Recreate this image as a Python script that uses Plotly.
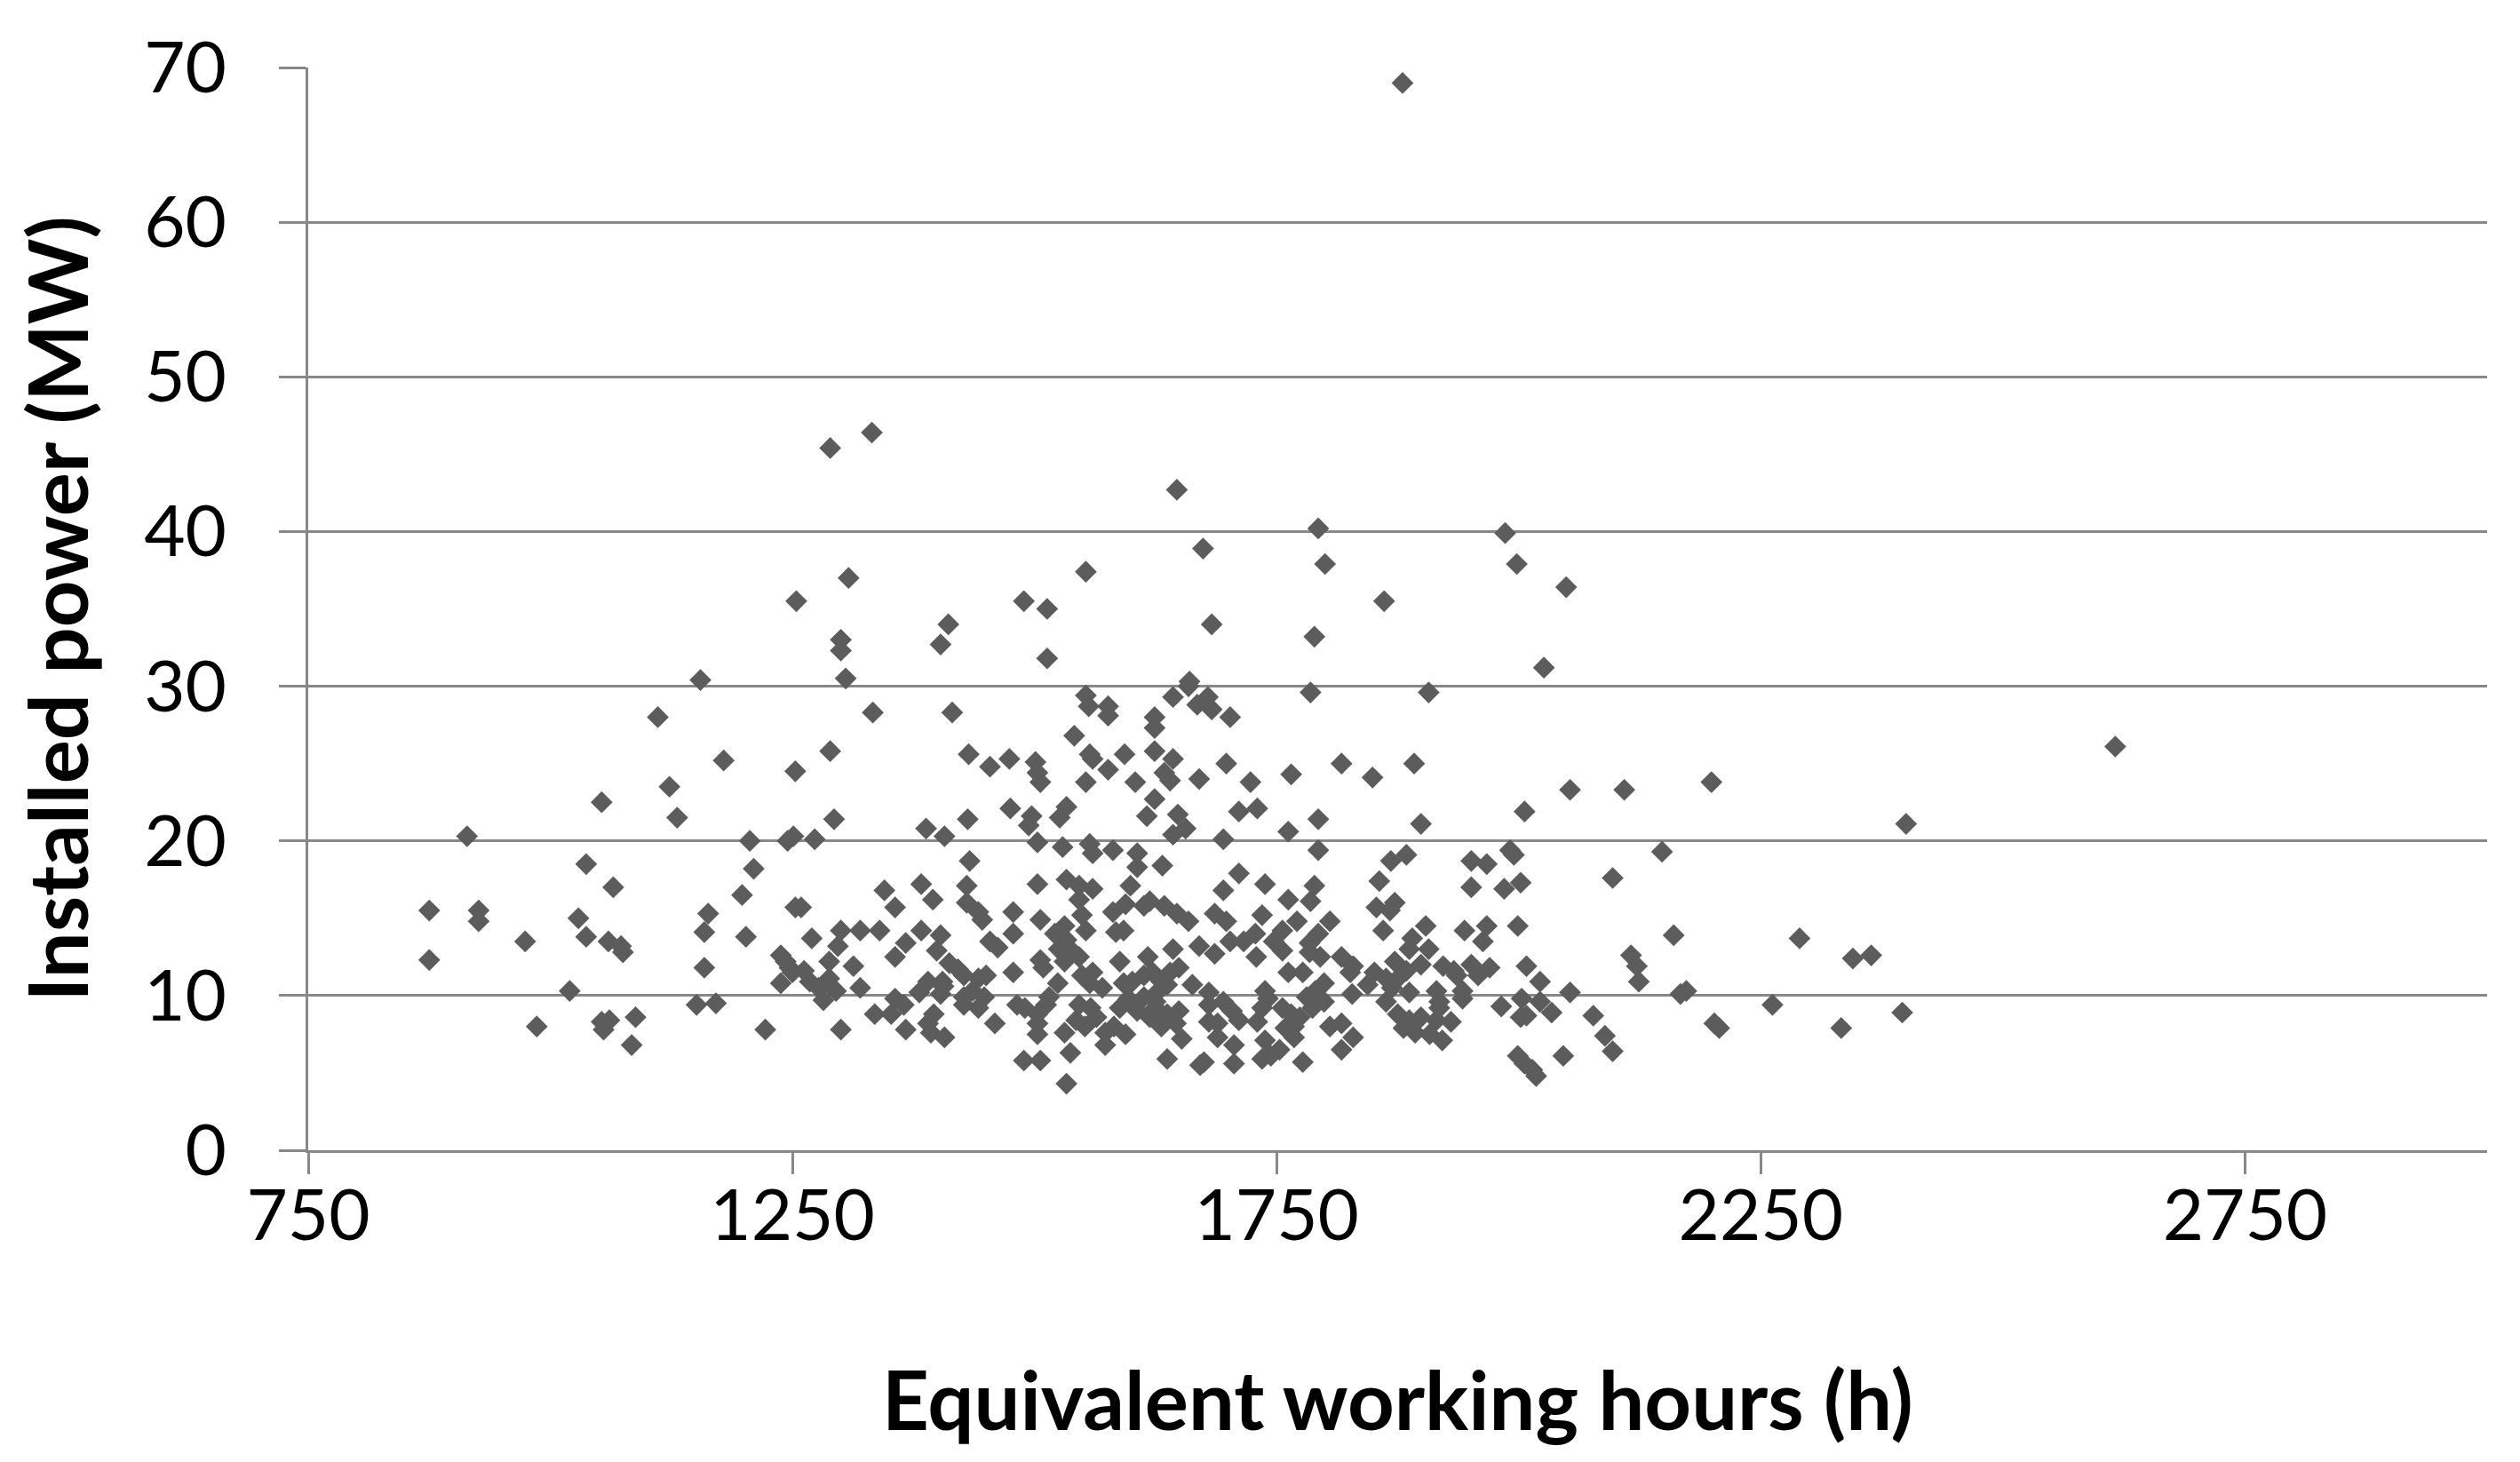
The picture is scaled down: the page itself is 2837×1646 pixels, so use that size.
import plotly.graph_objects as go

# Equivalent working hours (h) and installed power (MW)
hours = [
    875, 875, 914, 926, 926, 974, 986, 1020, 1029, 1037, 1037, 1053, 1053, 1055, 1061, 1060, 1065, 1073, 1075, 1084,
    1088, 1111, 1123, 1131, 1151, 1155, 1159, 1159, 1163, 1171, 1179, 1198, 1202, 1206, 1210, 1222, 1238, 1243, 1247, 1250,
    1238, 1245, 1251, 1253, 1254,
    1289, 1332, 1647, 1793, 1986, 1998, 1674, 1800, 1308, 1553, 1489, 1513, 1861, 1411, 1403, 1300, 1300, 1513, 1683, 1789,
    1305, 1660,
    1333, 1415, 1289, 1432, 1293, 1273, 1388, 1407, 1431, 1433, 1383, 1345, 1430,
    1553, 1556, 1576, 1576, 1624, 1624, 1541, 1454, 1474, 1501, 1503, 1506, 1557, 1560, 1576, 1593, 1553, 1604, 1624, 1624,
    1616, 1475, 1497, 1494, 1533, 1526, 1503, 1529, 1557, 1560, 1581, 1606, 1606, 1503, 1533, 1546, 1560, 1599,
    1659, 1643, 1668, 1679, 1683, 1702, 1785, 1643, 1634, 1640, 1670, 1698, 1723, 1765, 1817, 1648, 1656, 1643, 1711, 1730,
    1695, 1762, 1793, 1793, 1632, 1711, 1738, 1695, 1789,
    1907, 1849, 1892, 1899, 2006, 1884, 1868, 1856, 1951, 1967, 1991, 1995, 1951, 1985, 2002,
    1253, 1259, 1356, 1395, 1430, 1270, 1300, 1320, 1340, 1297, 1288, 1313, 1262, 1268, 1277, 1282, 1288, 1295, 1320, 1367,
    1356, 1383, 1403, 1399, 1412, 1421, 1390, 1381, 1405, 1403, 1406, 1427, 1427, 1427, 1356, 1365, 1352, 1335, 1396, 1390,
    1393, 1407, 1300, 1367,
    1546, 1594, 1613, 1619, 1442, 1446, 1478, 1506, 1549, 1553, 1581, 1478, 1454, 1462, 1584, 1592, 1531, 1521, 1533, 1525,
    1540, 1531, 1546, 1506, 1509, 1588, 1617, 1478, 1442, 1450, 1436, 1448, 1442, 1549, 1560, 1557, 1570, 1524, 1515, 1512,
    1482, 1490, 1503, 1503, 1503, 1459, 1546, 1558, 1564, 1543, 1552, 1531, 1573, 1582, 1594, 1573, 1592, 1601, 1613, 1622,
    1597, 1613, 1625, 1588, 1606, 1619, 1537, 1489, 1506, 1533,
    1762, 1785, 1634, 1647, 1659, 1686, 1698, 1735, 1756, 1771, 1805, 1793, 1784, 1643, 1670, 1686, 1702, 1716, 1728, 1729,
    1747, 1756, 1784, 1795, 1817, 1762, 1777, 1631, 1640, 1649, 1628, 1637, 1663, 1625, 1637, 1649, 1631, 1646, 1652, 1637,
    1680, 1680, 1695, 1704, 1711, 1680, 1689, 1689, 1675, 1671, 1706, 1706, 1738, 1741, 1735, 1730, 1738, 1735, 1744, 1753,
    1756, 1765, 1759, 1768, 1774, 1768, 1781, 1790, 1799, 1787, 1799, 1777, 1805, 1817,
    1853, 1867, 1872, 1860, 1904, 1890, 1887, 1907, 1944, 1967, 1963, 1999, 1829, 1826, 1851, 1872, 1884, 1899, 1863, 1875,
    1844, 1869, 1922, 1936, 1933, 1951, 1970, 1958, 2008, 1828, 1887, 1915, 1918, 1918, 1942, 1942, 1863, 1875, 1887, 1899,
    1915, 1930, 1881, 1893, 1908, 1921, 1982, 2003, 2002, 1817, 1829, 1999, 2006,
    2049, 2026, 2616, 2053, 2109, 2199, 2400, 2148, 2097, 2160, 2290, 2345, 2364, 2116, 2122, 2124, 2022, 2053, 2167, 2173,
    2022, 2008, 2034, 2077, 2262, 2396, 2202, 2207, 2333, 2089, 2097, 2046, 2014, 2018,
    1880,
]

power_mw = [
    15.5, 12.3, 20.3, 15.5, 14.8, 13.5, 8.0, 10.3, 15.0, 18.5, 13.8, 22.5, 8.3, 7.8, 8.4, 13.5, 17.0, 13.2, 12.8, 6.8,
    8.6, 28.0, 23.5, 21.5, 9.4, 30.4, 14.1, 11.8, 15.3, 9.5, 25.2, 16.5, 13.8, 20.0, 18.2, 7.8, 12.6, 12.2, 11.8, 11.5,
    10.8, 20.0, 20.3, 24.5, 35.5,
    45.4, 46.4, 42.7, 40.2, 39.9, 37.9, 38.9, 37.9, 37.0, 37.4, 35.5, 35.0, 35.5, 34.0, 32.7, 33.0, 32.3, 31.8, 34.0, 33.2,
    30.5, 30.3,
    28.3, 28.3, 25.8, 25.6, 21.4, 20.1, 20.8, 20.3, 21.4, 18.7, 17.2, 16.8, 17.1,
    29.4, 28.7, 28.7, 28.1, 28.0, 27.3, 26.8, 24.8, 25.3, 25.1, 24.4, 23.8, 25.6, 25.3, 24.6, 25.6, 23.8, 23.8, 25.8, 22.7,
    21.6, 22.1, 21.6, 21.0, 22.2, 21.5, 19.9, 19.6, 19.8, 19.2, 19.4, 19.2, 18.3, 17.2, 17.5, 17.1, 16.9, 17.1,
    30.0, 29.3, 28.8, 29.3, 28.5, 28.0, 29.6, 25.3, 24.4, 23.9, 24.0, 25.0, 23.8, 24.3, 25.0, 21.7, 20.8, 20.4, 21.9, 22.1,
    20.1, 20.6, 21.4, 19.4, 18.4, 17.9, 17.2, 16.8, 17.1,
    29.6, 24.1, 25.0, 21.1, 21.9, 19.1, 18.7, 17.4, 18.7, 18.5, 19.4, 19.1, 17.0, 16.9, 17.3,
    15.7, 15.7, 15.7, 16.2, 16.0, 13.7, 14.2, 14.2, 14.2, 13.2, 12.2, 11.9, 11.6, 10.9, 10.5, 9.7, 11.1, 10.3, 10.5, 13.4,
    12.5, 14.2, 13.9, 12.9, 12.1, 11.7, 10.9, 10.2, 10.9, 10.1, 10.6, 11.3, 9.9, 9.4, 9.8, 9.4, 8.8, 8.8, 8.8, 8.2,
    7.6, 7.3, 7.8, 7.8,
    16.2, 15.9, 15.8, 16.1, 15.4, 14.9, 15.4, 14.9, 15.2, 14.2, 15.4, 14.0, 13.5, 13.1, 14.1, 14.2, 14.5, 14.0, 13.6, 13.0,
    12.8, 12.2, 12.5, 12.3, 11.8, 12.2, 12.5, 11.5, 11.1, 11.3, 10.3, 9.9, 9.2, 11.3, 11.5, 10.8, 10.5, 10.8, 9.9, 9.4,
    9.4, 9.2, 8.8, 8.2, 7.5, 8.2, 9.4, 9.2, 8.6, 8.4, 8.0, 7.6, 7.6, 8.0, 7.5, 6.8, 10.8, 10.9, 11.3, 11.5,
    9.8, 9.9, 9.6, 9.2, 9.0, 8.6, 6.3, 5.8, 5.8, 4.3,
    16.2, 16.1, 15.8, 15.3, 14.8, 15.3, 14.8, 15.2, 14.2, 14.8, 14.8, 14.0, 13.4, 13.0, 13.2, 12.7, 13.5, 13.5, 14.0, 12.5,
    13.5, 12.9, 12.8, 12.5, 12.5, 11.5, 11.5, 10.9, 11.5, 11.8, 10.3, 10.7, 10.7, 9.2, 8.8, 9.0, 8.0, 8.2, 7.2, 5.9,
    10.2, 9.4, 9.6, 9.0, 8.4, 8.3, 8.2, 7.3, 5.7, 5.5, 6.8, 5.6, 10.3, 9.8, 9.2, 8.3, 7.1, 5.9, 6.1, 6.5,
    9.2, 8.8, 7.9, 8.0, 8.6, 7.3, 9.9, 10.3, 10.8, 9.2, 9.6, 5.7, 8.0, 6.5,
    15.7, 15.5, 16.0, 14.2, 14.5, 13.7, 13.0, 13.0, 14.2, 14.5, 13.5, 14.5, 11.9, 11.5, 11.5, 12.2, 11.6, 12.0, 11.1, 11.1,
    10.7, 10.5, 11.9, 11.3, 11.6, 12.0, 11.8, 11.3, 11.9, 10.1, 10.2, 10.3, 9.6, 9.2, 10.3, 9.8, 9.6, 8.8, 8.4, 8.6,
    8.4, 8.3, 7.9, 7.6, 7.5, 7.1, 9.3, 9.8, 8.6, 8.2, 7.3, 6.1, 5.6,
    36.4, 31.2, 26.1, 23.3, 23.3, 23.8, 21.1, 19.3, 17.6, 13.9, 13.7, 12.4, 12.6, 12.6, 11.9, 10.9, 10.9, 10.2, 10.1, 10.3,
    9.6, 8.7, 8.9, 8.7, 9.4, 8.9, 8.2, 7.9, 7.9, 7.4, 6.4, 6.1, 5.2, 4.8,
    69.0,
]

x_ticks = [750, 1250, 1750, 2250, 2750]
y_ticks = [0, 10, 20, 30, 40, 50, 60, 70]

GRID = "#888888"
FONT = "Lato"

fig = go.Figure(
    go.Scatter(
        x=hours,
        y=power_mw,
        mode="markers",
        marker=dict(symbol="diamond", size=19, color="#5c5c5c", line=dict(width=0)),
        showlegend=False,
    )
)

# the page body adds an 8px margin, so the figure is kept 16px smaller than the window
fig.update_layout(
    width=2821,
    height=1630,
    paper_bgcolor="white",
    plot_bgcolor="white",
    margin=dict(l=339, r=29, t=68, b=343, autoexpand=False),
    font=dict(family=FONT, color="black", size=80),
)

fig.update_xaxes(
    range=[750, 3000],
    tickmode="array",
    tickvals=x_ticks,
    ticktext=[str(v) for v in x_ticks],
    showgrid=False,
    zeroline=False,
    showline=True,
    linecolor=GRID,
    linewidth=3,
    ticks="outside",
    ticklen=24,
    tickwidth=3,
    tickcolor=GRID,
    tickfont=dict(family=FONT, size=80, color="black"),
    ticklabelstandoff=-22,
    title=dict(
        text="<b>Equivalent working hours (h)</b>",
        font=dict(family=FONT, size=92, color="black"),
        standoff=134,
    ),
)

fig.update_yaxes(
    range=[0, 70],
    tickmode="array",
    tickvals=y_ticks,
    ticktext=[str(v) for v in y_ticks],
    showgrid=True,
    gridcolor=GRID,
    gridwidth=3,
    zeroline=False,
    showline=True,
    linecolor=GRID,
    linewidth=3,
    ticks="outside",
    ticklen=30,
    tickwidth=3,
    tickcolor=GRID,
    tickfont=dict(family=FONT, size=80, color="black"),
    ticklabelstandoff=43,
    title=dict(
        text="<b>Installed power (MW)</b>",
        font=dict(family=FONT, size=92, color="black"),
        standoff=34,
    ),
)

fig.write_html("out.html")
